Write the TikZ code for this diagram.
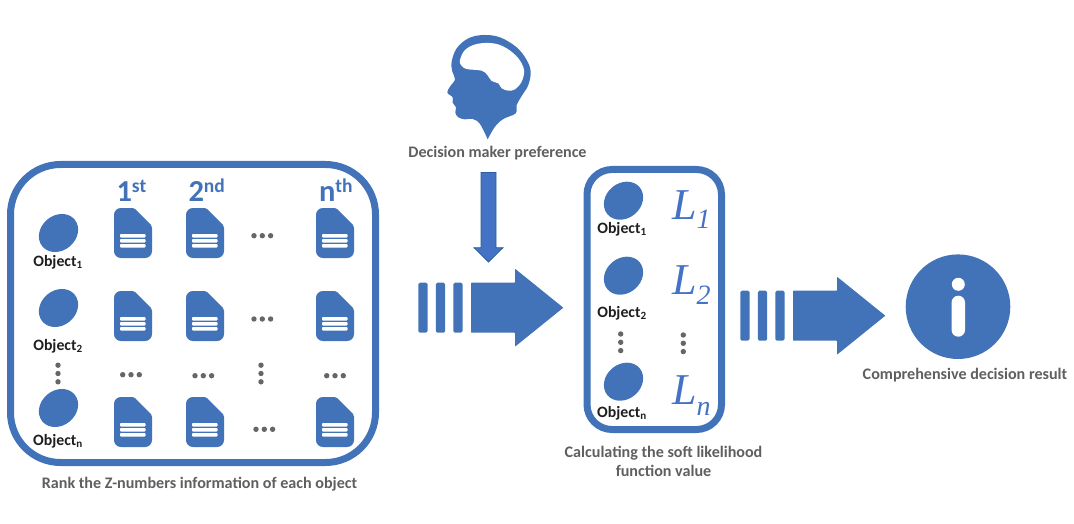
\documentclass[tikz,border=0pt]{standalone}
\usepackage{fontspec}
\setmainfont{Carlito}
\newfontfamily\lserif{Liberation Serif}
\definecolor{iconblue}{HTML}{4273B9}
\definecolor{lblue}{HTML}{4472C4}
\definecolor{edgeblue}{HTML}{2F5F9E}
\definecolor{capgray}{HTML}{5F5F5F}
\definecolor{dotgray}{HTML}{666666}
\tikzset{
  x=1pt,y=-1pt,
  every node/.style={inner sep=0pt,outer sep=0pt},
  frame/.style={draw=iconblue,line width=7pt,fill=none},
  caption/.style={font=\bfseries\fontsize{16.1}{19}\selectfont,text=capgray,anchor=base,align=center},
  objlabel/.style={font=\bfseries\fontsize{15.8}{18}\selectfont,text=black!88,anchor=base},
  ordlabel/.style={font=\bfseries\fontsize{30.5}{32}\selectfont,text=iconblue,anchor=base west},
  bigL/.style={font=\lserif\itshape\fontsize{44}{44}\selectfont,text=lblue,anchor=base west},
  subL/.style={font=\lserif\itshape\fontsize{28}{28}\selectfont,text=lblue,anchor=base west},
  docicon/.pic={
    \fill[iconblue] (7,0) -- (18.5,0) .. controls (20,0) and (20.5,0.5) .. (21,1) -- (37,17) .. controls (37.7,17.7) and (38,18.5) .. (38,20) -- (38,43) .. controls (38,47) and (35,50) .. (31,50) -- (7,50) .. controls (3,50) and (0,47) .. (0,43) -- (0,7) .. controls (0,3) and (3,0) .. (7,0) -- cycle;
    \fill[white,rounded corners=0.8pt] (6,26) rectangle (31.5,29.5);
    \fill[white,rounded corners=0.8pt] (6,31) rectangle (31.5,34.5);
    \fill[white,rounded corners=0.8pt] (6,36) rectangle (31.5,39.5);
  },
  objblob/.pic={\fill[iconblue,rotate=40] (0,0) ellipse (21 and 17.5);},
  hdots/.pic={\foreach \d in {-8.3,0,8.3}{\fill[dotgray] (\d,0) circle (2.7);}},
  vdots/.pic={\foreach \d in {-8.3,0,8.3}{\fill[dotgray] (0,\d) circle (2.7);}},
  stripedarrow/.pic={
    \foreach \b in {0,17.6,35}{\fill[iconblue,rounded corners=1.5pt] (\b,-25) rectangle (\b+9.2,25);}
    \fill[iconblue,rounded corners=0.6pt] (52.7,-25) -- (96.7,-25) -- (96.7,-39) -- (145,0) -- (96.7,39) -- (96.7,25) -- (52.7,25) -- cycle;
  }
}
\begin{document}
\begin{tikzpicture}
\useasboundingbox (0,0) rectangle (1074,524);

% left panel
\draw[frame,rounded corners=50pt] (10.5,164.5) rectangle (375.5,462.5);
\node[ordlabel] (h1) at (116.5,201.7) {1\raisebox{9pt}{\fontsize{19.5}{19.5}\selectfont st}};
\node[ordlabel] (h2) at (188.5,201.7) {2\raisebox{9pt}{\fontsize{19.5}{19.5}\selectfont nd}};
\node[ordlabel] (h3) at (319,201.7) {n\raisebox{9pt}{\fontsize{19.5}{19.5}\selectfont th}};

\foreach \yy in {208,291,397}{
  \foreach \xx in {114,186,316}{
    \pic at (\xx,\yy) {docicon};
  }
}
\pic at (58.5,233) {objblob};
\pic at (58.5,308) {objblob};
\pic at (58.5,408) {objblob};
\node[objlabel] (o1) at (58,266.7) {Object\textsubscript{1}};
\node[objlabel] (o2) at (58,350.2) {Object\textsubscript{2}};
\node[objlabel] (on) at (58,445.7) {Object\textsubscript{n}};

\pic at (262.3,235.7) {hdots};
\pic at (262.3,319) {hdots};
\pic at (131,374.7) {hdots};
\pic at (203.3,375.7) {hdots};
\pic at (335,375.7) {hdots};
\pic at (264.3,429.3) {hdots};
\pic at (58,373.5) {vdots};
\pic at (261,373.5) {vdots};

\node[caption] (c1) at (199.5,488.7) {Rank the Z-numbers information of each object};

% head
\begin{scope}[shift={(400,20)},scale=1/3]
\fill[iconblue] plot[smooth,tension=0.6] coordinates {
  (263,358) (285,320) (310,297) (347,280) (350,255) (365,228) (385,195) (392,155)
  (380,120) (350,82) (300,52) (250,45) (205,55) (170,85) (155,125) (157,155)
  (165,178) (150,200) (142,218) (158,232) (158,248) (168,262) (166,278)
  (175,292) (195,298) (218,297) (240,312) (263,358)} -- cycle;
\fill[white] plot[smooth cycle,tension=0.6] coordinates {
  (180,120) (195,90) (230,72) (280,70) (320,85) (355,115) (372,150) (365,185)
  (345,208) (325,212) (305,205) (295,190) (275,183) (262,165) (245,152)
  (200,147) (183,135)};
\end{scope}
\node[caption] (c2) at (497.5,157.5) {Decision maker preference};

% down arrow
\draw[fill=lblue,draw=edgeblue,line width=0.8pt] (481,172.5) -- (496,172.5) -- (496,247.7) -- (503,247.7) -- (488.5,262) -- (474,247.7) -- (481,247.7) -- cycle;

% first striped arrow
\pic at (418.3,307.7) {stripedarrow};

% right panel
\draw[frame,rounded corners=25pt] (587,169.5) rectangle (721.5,429.5);
\pic at (623.5,200.7) {objblob};
\pic at (623.5,275.7) {objblob};
\pic at (623.5,381.7) {objblob};
\node[objlabel] (r1) at (622,233.7) {Object\textsubscript{1}};
\node[objlabel] (r2) at (622,317.4) {Object\textsubscript{2}};
\node[objlabel] (rn) at (622,417.4) {Object\textsubscript{n}};
\pic at (620.7,342.3) {vdots};
\pic at (683.3,343.3) {vdots};
\node[bigL] (l1) at (672,219) {L};
\node[subL] (s1) at (696.5,228) {1};
\node[bigL] (l2) at (672,294) {L};
\node[subL] (s2) at (696.5,304) {2};
\node[bigL] (ln) at (672,404) {L};
\node[subL] (sn) at (696.5,415) {n};
\node[caption] (c3) at (663.5,476) {Calculating the soft likelihood\\function value};

% second striped arrow
\pic at (740.3,315.7) {stripedarrow};

% info
\fill[iconblue] (958,306.7) circle (52.3);
\fill[white] (958.3,284.3) circle (6.5);
\fill[white,rounded corners=6.7pt] (951.6,295.7) rectangle (965,336.7);
\node[caption] (c4) at (965,379) {Comprehensive decision result};
\end{tikzpicture}
\end{document}
